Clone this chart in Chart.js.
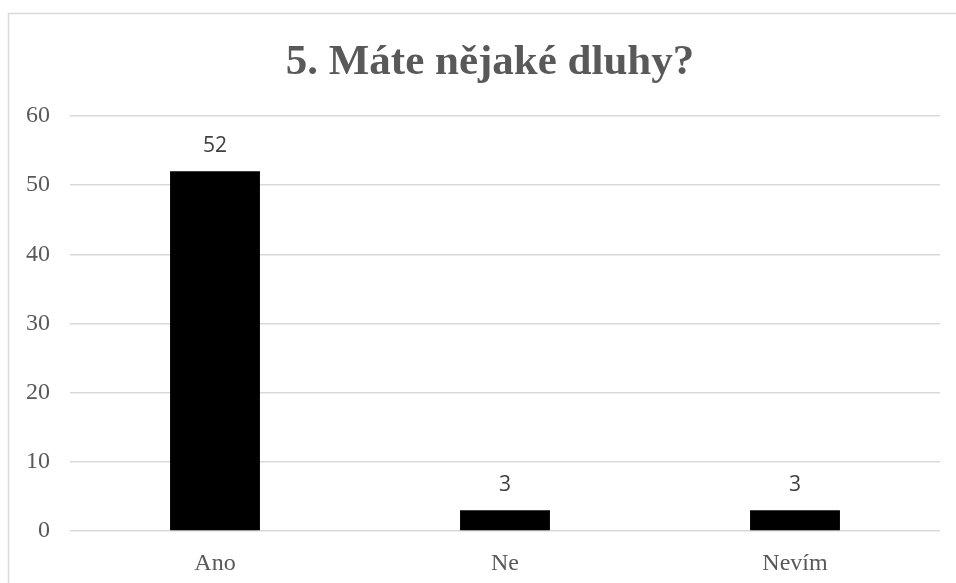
<!DOCTYPE html>
<html lang="cs">
<head>
    <meta charset="UTF-8">
    <title>5. Máte nějaké dluhy?</title>
    <script src="https://cdn.jsdelivr.net/npm/chart.js"></script>
    <style>
        html, body { margin: 0; padding: 0; background: #fff; }
        #chart-container { width: 956px; height: 583px; }
    </style>
</head>
<body>
    <div id="chart-container">
        <canvas id="chart"></canvas>
    </div>
    <script>
        var categories = ['Ano', 'Ne', 'Nevím'];
        var counts = [52, 3, 3];
        var titleText = '5. Máte nějaké dluhy?';

        // frame around the chart, title nudged right like in the original
        var framePlugin = {
            id: 'frame',
            afterLayout: function(chart) {
                if (chart.titleBlock) chart.titleBlock.left = 40;
            },
            beforeDraw: function(chart) {
                var ctx = chart.ctx;
                ctx.save();
                ctx.fillStyle = '#fff';
                ctx.fillRect(0, 0, chart.width, chart.height);
                ctx.strokeStyle = '#d9d9d9';
                ctx.lineWidth = 1.5;
                ctx.strokeRect(8.5, 13.5, chart.width + 20, chart.height + 20);
                ctx.restore();
            }
        };

        // value labels above the bars
        var labelPlugin = {
            id: 'barLabels',
            afterDatasetsDraw: function(chart) {
                var ctx = chart.ctx;
                var meta = chart.getDatasetMeta(0);
                ctx.save();
                ctx.fillStyle = '#404040';
                ctx.font = '21px "Open Sans", sans-serif';
                ctx.textAlign = 'center';
                ctx.textBaseline = 'middle';
                meta.data.forEach(function(bar, i) {
                    ctx.fillText(String(counts[i]), bar.x, bar.y - 25);
                });
                ctx.restore();
            }
        };

        var ctx = document.getElementById('chart').getContext('2d');
        var chart = new Chart(ctx, {
            type: 'bar',
            data: {
                labels: categories,
                datasets: [{
                    data: counts,
                    backgroundColor: '#000',
                    barPercentage: 1,
                    categoryPercentage: 0.31
                }]
            },
            options: {
                responsive: true,
                maintainAspectRatio: false,
                animation: false,
                layout: { padding: { left: 0, right: 16, top: 0, bottom: 0 } },
                plugins: {
                    legend: { display: false },
                    tooltip: { enabled: false },
                    title: {
                        display: true,
                        text: titleText,
                        color: '#595959',
                        font: { family: '"Liberation Serif", serif', size: 43, weight: 'bold', lineHeight: 1.2 },
                        padding: { top: 37, bottom: 27.4 }
                    }
                },
                scales: {
                    x: {
                        grid: { display: false },
                        border: { display: false },
                        ticks: {
                            color: '#595959',
                            padding: 10,
                            font: { family: '"Liberation Serif", serif', size: 24 }
                        },
                        afterFit: function(s) { s.height = 52; }
                    },
                    y: {
                        min: 0,
                        max: 60,
                        grid: { color: '#d9d9d9', lineWidth: 1.5, drawTicks: false },
                        border: { display: false },
                        ticks: {
                            stepSize: 10,
                            color: '#595959',
                            padding: 20,
                            font: { family: '"Liberation Serif", serif', size: 24 }
                        },
                        afterFit: function(s) { s.width = 70; }
                    }
                }
            },
            plugins: [framePlugin, labelPlugin]
        });
    </script>
</body>
</html>
